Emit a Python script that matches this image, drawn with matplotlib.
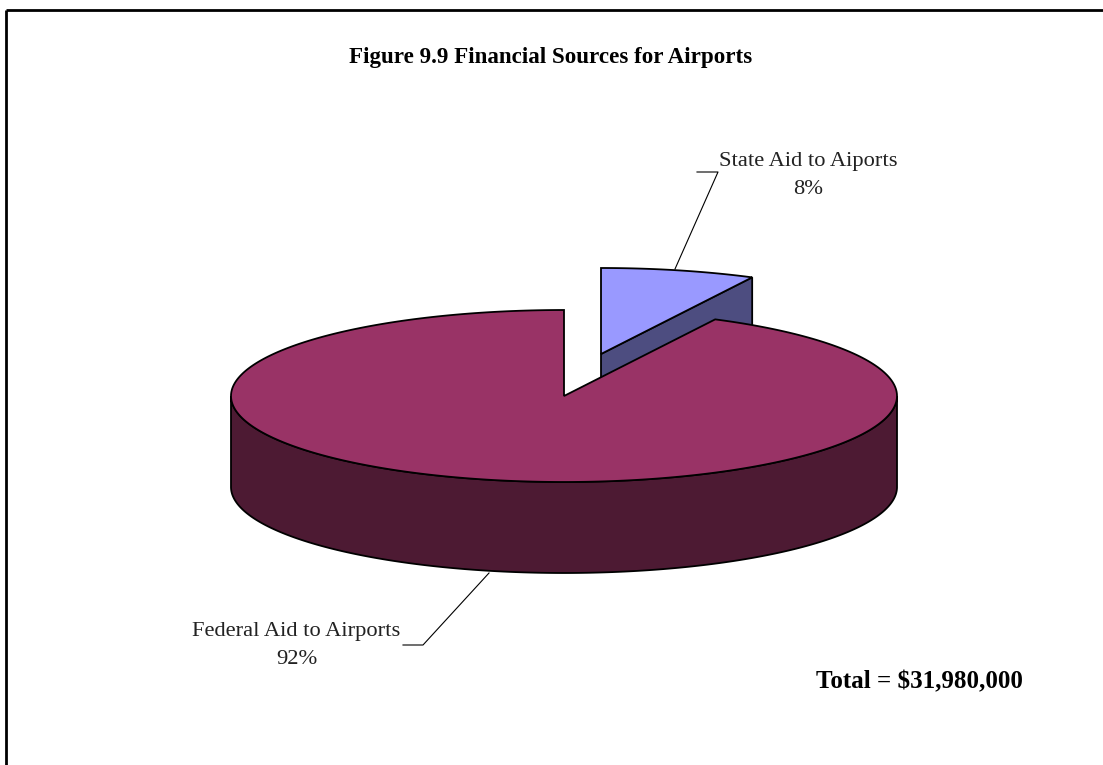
import numpy as np
import matplotlib
matplotlib.use('Agg')
import matplotlib.pyplot as plt

plt.rcParams['font.family'] = ['Liberation Serif', 'DejaVu Serif']

# datos
labels = ['State Aid to Aiports', 'Federal Aid to Airports']
pct_labels = ['8%', '92%']
values = [2398500, 29581500]
colors_top = ['#9999FF', '#993366']
colors_side = ['#4D4D80', '#4D1A33']
title = 'Figure 9.9 Financial Sources for Airports'
total_label = 'Total = $31,980,000'

# geometria de la tarta en pixeles
cx, cy = 564, 396
rx, ry = 333, 86
depth = 91
explode = (37, -42)


def rim(t):
    # t en grados, sentido horario desde las 12
    r = np.radians(t)
    return rx * np.sin(r), -ry * np.cos(r)


def slice_top(ax, t0, t1, ox, oy, color):
    t = np.linspace(t0, t1, 300)
    x, y = rim(t)
    xs = np.r_[cx + ox, cx + ox + x]
    ys = np.r_[cy + oy, cy + oy + y]
    ax.fill(xs, ys, facecolor=color, edgecolor='black', lw=1.3, joinstyle='miter')


def side_wall(ax, xa, ya, xb, yb, color):
    ax.fill([xa, xb, xb, xa], [ya, yb, yb + depth, ya + depth],
            facecolor=color, edgecolor='black', lw=1.3, joinstyle='miter')


def outer_wall(ax, t0, t1, color):
    t = np.linspace(t0, t1, 300)
    x, y = rim(t)
    xs = np.r_[cx + x, (cx + x)[::-1]]
    ys = np.r_[cy + y, (cy + y + depth)[::-1]]
    ax.fill(xs, ys, facecolor=color, edgecolor='black', lw=1.3, joinstyle='miter')


fig = plt.figure(figsize=(11.03, 7.65), dpi=100)
ax = fig.add_axes([0, 0, 1, 1])
ax.set_xlim(0, 1103)
ax.set_ylim(765, 0)
ax.axis('off')

angle = 360 * values[0] / sum(values)

# porcion separada (estatal)
ex, ey = explode
xr, yr = rim(angle)
side_wall(ax, cx + ex, cy + ey, cx + ex + xr, cy + ey + yr, colors_side[0])
slice_top(ax, 0, angle, ex, ey, colors_top[0])

# porcion federal
outer_wall(ax, 90, 270, colors_side[1])
slice_top(ax, angle, 360, 0, 0, colors_top[1])

# lineas guia
ax.plot([697, 718, 675], [172, 172, 269], color='black', lw=0.8)
ax.plot([403, 423, 489], [645, 645, 573], color='black', lw=0.8)

ax.text(808, 175.5, labels[0] + '\n' + pct_labels[0], ha='center', va='center',
        fontsize=16.2, color='#222222', linespacing=1.6)
ax.text(296.5, 645.5, labels[1] + '\n' + pct_labels[1], ha='center', va='center',
        fontsize=16.2, color='#222222', linespacing=1.6)
ax.text(551, 57, title, ha='center', va='center', fontsize=16.6, fontweight='bold')
ax.text(919, 682, total_label, ha='center', va='center', fontsize=18, fontweight='bold')

# marco
ax.plot([6, 6], [765, 10], color='black', lw=2, solid_capstyle='butt')
ax.plot([6, 1103], [10, 10], color='black', lw=2, solid_capstyle='butt')

fig.savefig('out.png', dpi=100)
